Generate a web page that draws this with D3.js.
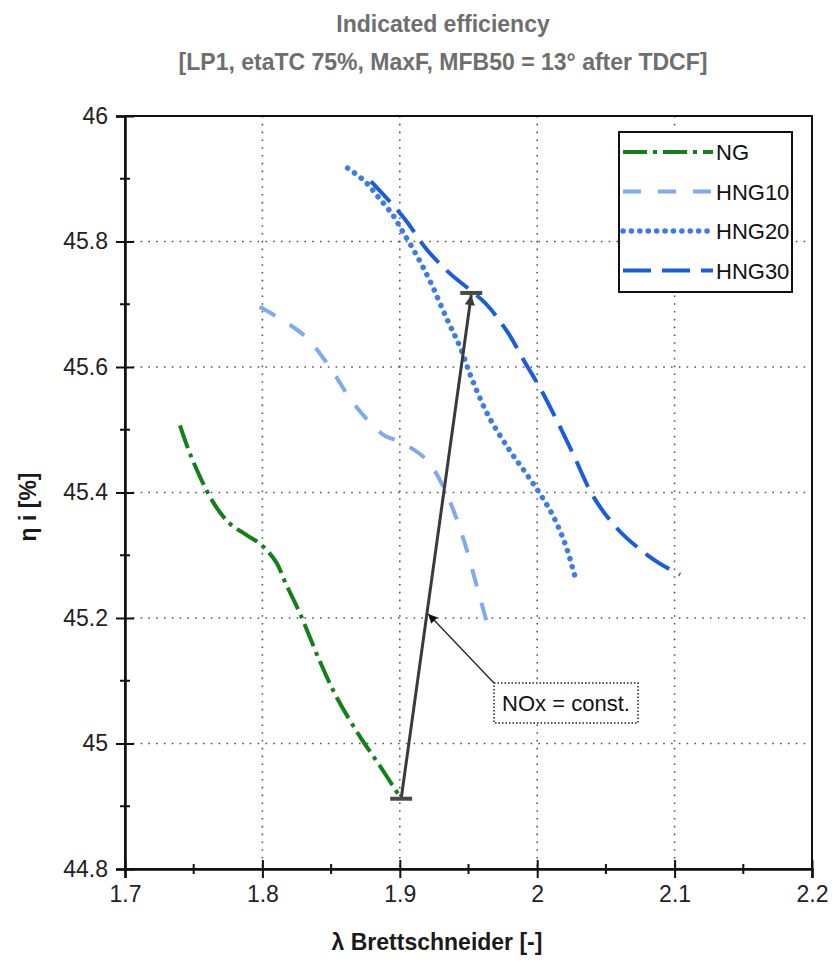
<!DOCTYPE html>
<html>
<head>
<meta charset="utf-8">
<script src="https://cdn.jsdelivr.net/npm/d3@7"></script>
<style>
  body { margin: 0; background: #fff; }
  text { font-family: "Liberation Sans", Arial, sans-serif; }
</style>
</head>
<body>
<svg width="832" height="962"></svg>
<script>
// series (lambda, eta_i)
const ngX = [1.740, 1.748, 1.764, 1.776, 1.788, 1.799, 1.810, 1.817, 1.827, 1.842, 1.854, 1.871, 1.885, 1.901]
const ngY = [45.507, 45.458, 45.385, 45.351, 45.333, 45.317, 45.289, 45.255, 45.209, 45.130, 45.074, 45.011, 44.966, 44.912]

const hng10X = [1.798, 1.830, 1.849, 1.866, 1.888, 1.900, 1.919, 1.932, 1.946, 1.957, 1.964]
const hng10Y = [45.696, 45.651, 45.600, 45.543, 45.492, 45.481, 45.453, 45.408, 45.328, 45.243, 45.188]

const hng20X = [1.862, 1.875, 1.885, 1.895, 1.902, 1.912, 1.922, 1.934, 1.944, 1.953, 1.965, 1.980, 1.992, 2.002, 2.012, 2.021, 2.028]
const hng20Y = [45.917, 45.895, 45.869, 45.842, 45.816, 45.779, 45.737, 45.678, 45.631, 45.578, 45.520, 45.467, 45.430, 45.398, 45.361, 45.314, 45.262]

const hng30X = [1.879, 1.893, 1.905, 1.919, 1.936, 1.951, 1.963, 1.978, 1.992, 2.002, 2.012, 2.026, 2.041, 2.058, 2.075, 2.089, 2.104]
const hng30Y = [45.896, 45.863, 45.832, 45.789, 45.750, 45.723, 45.700, 45.657, 45.604, 45.567, 45.525, 45.462, 45.393, 45.343, 45.309, 45.287, 45.269]

const seriesNames = ['NG', 'HNG10', 'HNG20', 'HNG30']

// NOx = const. arrow: from NG end to HNG30 point
const noxX = [1.901, 1.952]
const noxY = [44.912, 45.718]
const noteTip = [1.920, 45.208]
const noteText = 'NOx = const.'

const xTicks = [1.7, 1.8, 1.9, 2.0, 2.1, 2.2]
const yTicks = [44.8, 45, 45.2, 45.4, 45.6, 45.8, 46]
const titleLines = ['Indicated efficiency', '[LP1, etaTC 75%, MaxF, MFB50 = 13° after TDCF]']
const xAxisLabel = 'λ Brettschneider [-]'
const yAxisLabel = 'η i [%]'

const svg = d3.select('svg')
const margin = { top: 116, right: 20, bottom: 93, left: 125 }
const innerWidth = 812 - margin.left
const innerHeight = 869 - margin.top
const fontFamily = '"Liberation Sans", Arial, sans-serif'

const xScale = d3.scaleLinear().domain([1.7, 2.2]).range([0, innerWidth])
const yScale = d3.scaleLinear().domain([44.8, 46]).range([innerHeight, 0])

const g = svg.append('g').attr('transform', `translate(${margin.left}, ${margin.top})`)

// grid
g.append('g').selectAll('line').data(xTicks.slice(1, -1))
  .enter().append('line')
  .attr('x1', d => xScale(d)).attr('x2', d => xScale(d))
  .attr('y1', 0).attr('y2', innerHeight)
  .attr('stroke', '#555').attr('stroke-width', 1.6)
  .attr('stroke-dasharray', '1.6,6.2')
g.append('g').selectAll('line').data(yTicks.slice(1, -1))
  .enter().append('line')
  .attr('y1', d => yScale(d)).attr('y2', d => yScale(d))
  .attr('x1', 0).attr('x2', innerWidth)
  .attr('stroke', '#555').attr('stroke-width', 1.6)
  .attr('stroke-dasharray', '1.6,6.2')

// frame
g.append('rect')
  .attr('width', innerWidth).attr('height', innerHeight)
  .attr('fill', 'none').attr('stroke', '#111').attr('stroke-width', 2)

// axes (ticks cross the axis line)
const xAxis = d3.axisBottom(xScale).tickValues(xTicks).tickSize(9).tickPadding(8)
  .tickFormat(d3.format('~g'))
const xAxisG = g.append('g').attr('transform', `translate(0, ${innerHeight})`).call(xAxis)
  .attr('font-size', 23).attr('font-family', fontFamily)
xAxisG.select('.domain').attr('stroke', '#111').attr('stroke-width', 2.5)
xAxisG.selectAll('.tick line').attr('y1', -9).attr('stroke', '#111').attr('stroke-width', 2)
xAxisG.selectAll('.tick text').attr('fill', '#222')

const yAxis = d3.axisLeft(yScale).tickValues(yTicks).tickSize(9).tickPadding(8)
  .tickFormat(d3.format('~g'))
const yAxisG = g.append('g').call(yAxis)
  .attr('font-size', 23).attr('font-family', fontFamily)
yAxisG.select('.domain').attr('stroke', '#111').attr('stroke-width', 2.5)
yAxisG.selectAll('.tick line').attr('x1', 9).attr('stroke', '#111').attr('stroke-width', 2)
yAxisG.selectAll('.tick text').attr('fill', '#222')

// minor ticks
g.append('g').selectAll('line').data(d3.range(1.75, 2.2, 0.1))
  .enter().append('line')
  .attr('x1', d => xScale(d)).attr('x2', d => xScale(d))
  .attr('y1', innerHeight - 5).attr('y2', innerHeight + 5)
  .attr('stroke', '#111').attr('stroke-width', 2)
g.append('g').selectAll('line').data(d3.range(44.9, 46, 0.2))
  .enter().append('line')
  .attr('y1', d => yScale(d)).attr('y2', d => yScale(d))
  .attr('x1', -5).attr('x2', 5)
  .attr('stroke', '#111').attr('stroke-width', 2)

// series
const styles = [
  { color: '#13801a', dash: '24,6,4,6', cap: 'butt', w: 4 },
  { color: '#7eaaf0', dash: '18,17', cap: 'butt', w: 4 },
  { color: '#3d7ce8', dash: '0.1,8.3', cap: 'round', w: 5.5 },
  { color: '#1a5ddc', dash: '28,11', cap: 'butt', w: 4 }
]
const seriesData = [
  d3.zip(ngX, ngY), d3.zip(hng10X, hng10Y), d3.zip(hng20X, hng20Y), d3.zip(hng30X, hng30Y)
]
const line = d3.line()
  .x(d => xScale(d[0])).y(d => yScale(d[1]))
  .curve(d3.curveCatmullRom.alpha(0.5))

seriesData.forEach((data, i) => {
  g.append('path')
    .attr('d', line(data))
    .attr('fill', 'none')
    .attr('stroke', styles[i].color)
    .attr('stroke-width', styles[i].w)
    .attr('stroke-dasharray', styles[i].dash)
    .attr('stroke-linecap', styles[i].cap)
})

// NOx arrow with caps
const defs = svg.append('defs')
defs.append('marker').attr('id', 'bigHead')
  .attr('viewBox', '0 0 10 10').attr('refX', 10).attr('refY', 5)
  .attr('markerWidth', 9).attr('markerHeight', 3.4).attr('orient', 'auto')
  .attr('markerUnits', 'strokeWidth')
  .append('path').attr('d', 'M0,0 L10,5 L0,10 Z').attr('fill', '#3a3a3a')
defs.append('marker').attr('id', 'smallHead')
  .attr('viewBox', '0 0 10 10').attr('refX', 10).attr('refY', 5)
  .attr('markerWidth', 12).attr('markerHeight', 9).attr('orient', 'auto')
  .attr('markerUnits', 'userSpaceOnUse')
  .append('path').attr('d', 'M0,0 L10,5 L0,10 Z').attr('fill', '#111')

g.append('line')
  .attr('x1', xScale(noxX[0])).attr('y1', yScale(noxY[0]))
  .attr('x2', xScale(noxX[1])).attr('y2', yScale(noxY[1]) + 2)
  .attr('stroke', '#3a3a3a').attr('stroke-width', 3)
  .attr('marker-end', 'url(#bigHead)')
noxX.forEach((x, i) => {
  g.append('line')
    .attr('x1', xScale(x) - 11).attr('x2', xScale(x) + 11)
    .attr('y1', yScale(noxY[i])).attr('y2', yScale(noxY[i]))
    .attr('stroke', '#4a4a4a').attr('stroke-width', 4)
})

// annotation
const boxX = 494 - margin.left, boxY = 683 - margin.top
g.append('line')
  .attr('x1', boxX).attr('y1', boxY)
  .attr('x2', xScale(noteTip[0]) + 1).attr('y2', yScale(noteTip[1]) + 1)
  .attr('stroke', '#222').attr('stroke-width', 1.3)
  .attr('marker-end', 'url(#smallHead)')
g.append('rect')
  .attr('x', boxX).attr('y', boxY).attr('width', 144).attr('height', 40)
  .attr('fill', '#fff').attr('stroke', '#222').attr('stroke-width', 1.5)
  .attr('stroke-dasharray', '1.5,2')
g.append('text')
  .attr('x', boxX + 72).attr('y', boxY + 28)
  .attr('text-anchor', 'middle').attr('font-size', 22).attr('fill', '#111')
  .text(noteText)

// legend
const legend = svg.append('g').attr('transform', 'translate(619, 132)')
legend.append('rect').attr('width', 173).attr('height', 160)
  .attr('fill', '#fff').attr('stroke', '#111').attr('stroke-width', 2)
seriesNames.forEach((name, i) => {
  const y = 20 + i * 39.5
  legend.append('line')
    .attr('x1', 4).attr('x2', 94).attr('y1', y).attr('y2', y)
    .attr('stroke', styles[i].color).attr('stroke-width', styles[i].w)
    .attr('stroke-dasharray', styles[i].dash)
    .attr('stroke-linecap', styles[i].cap)
  legend.append('text')
    .attr('x', 97).attr('y', y + 8)
    .attr('font-size', 22).attr('fill', '#111')
    .text(name)
})

// titles
svg.append('g').selectAll('text').data(titleLines)
  .enter().append('text')
  .attr('x', 443).attr('y', (d, i) => 32 + i * 38)
  .attr('text-anchor', 'middle')
  .attr('font-size', 23).attr('font-weight', 'bold').attr('fill', '#6e6e6e')
  .text(d => d)

svg.append('text')
  .attr('x', 437).attr('y', 950)
  .attr('text-anchor', 'middle')
  .attr('font-size', 23).attr('font-weight', 'bold').attr('fill', '#1a1a1a')
  .text(xAxisLabel)

svg.append('text')
  .attr('transform', 'translate(36, 507) rotate(-90)')
  .attr('text-anchor', 'middle')
  .attr('font-size', 23).attr('font-weight', 'bold').attr('fill', '#1a1a1a')
  .text(yAxisLabel)
</script>
</body>
</html>
